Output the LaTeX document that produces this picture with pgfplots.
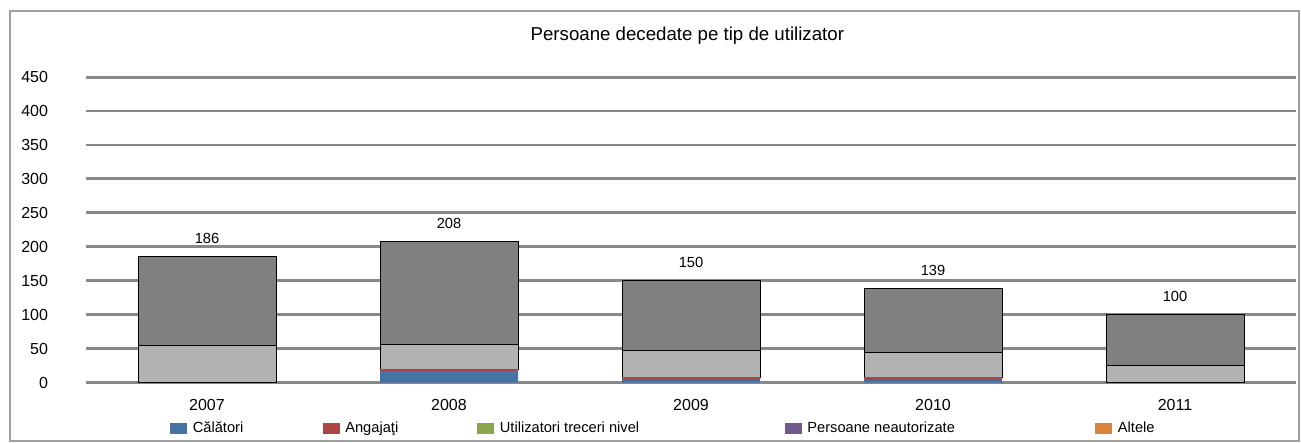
\documentclass[border=0pt]{standalone}
\usepackage{fontspec}
\setmainfont{Liberation Sans}
\usepackage{pgfplots}
\usepackage{pgfplotstable}
\pgfplotsset{compat=1.18}

\definecolor{calatori}{HTML}{4572A7}
\definecolor{angajati}{HTML}{AA4643}
\definecolor{utiliz}{HTML}{89A54E}
\definecolor{neaut}{HTML}{71588F}
\definecolor{altele}{HTML}{DB843D}
\definecolor{lightbar}{HTML}{B2B2B2}
\definecolor{darkbar}{HTML}{808080}
\definecolor{gridgray}{HTML}{888888}

% x: 0..4 = 2007..2011
\pgfplotstableread{
x calatori angajati utilizatori neautorizate total
0 0  0 55 131 186
1 17 3 37 151 208
2 4  4 40 102 150
3 4  4 37 94  139
4 0  0 26 74  100
}\datatable

\pgfplotsset{
  frame/.style={at={(0pt,0pt)},anchor=south west,
    scale only axis,width=907.5pt,height=229.2pt,
    xmin=-0.5,xmax=4.5,ymin=0,ymax=450,
    /pgf/number format/assume math mode=true}
}

\begin{document}
\begin{tikzpicture}
\path[use as bounding box] (-64.5pt,-45.2pt) rectangle (911.25pt,287pt);
\draw[gridgray!80,line width=1.3pt] (-57pt,278.8pt) rectangle (909.75pt,-43.7pt);
\node[anchor=base,font=\fontsize{14}{16}\selectfont] at (451pt,256.5pt)
  {Persoane decedate pe tip de utilizator};
\begin{axis}[
  frame,
  ybar stacked,bar width=103.5pt,
  xtick={0,1,2,3,4},xticklabels={2007,2008,2009,2010,2011},
  ytick={0,50,...,450},
  ymajorgrids,grid style={line width=2.2pt,gridgray},
  axis line style={draw=none},major tick length=0pt,
  tick label style={font=\fontsize{12}{14}\selectfont},
  xticklabel style={yshift=-9pt},
  yticklabel style={anchor=east,xshift=-25pt},
  legend columns=5,
  legend style={at={(0.0694,-0.1483)},anchor=west,draw=none,fill=none,
    inner sep=0pt,nodes={inner sep=0pt},font=\fontsize{11}{13}\selectfont,
    /tikz/every odd column/.style={column sep=4.5pt},
    /tikz/every even column/.style={column sep=0pt}},
  legend cell align=left,
]
\addlegendimage{legend image code/.code={\fill[calatori] (0pt,-3.75pt) rectangle (12pt,3.75pt);}}
\addlegendentry{\makebox[97.5pt][l]{Călători}}
\addlegendimage{legend image code/.code={\fill[angajati] (0pt,-3.75pt) rectangle (12pt,3.75pt);}}
\addlegendentry{\makebox[99pt][l]{Angajaţi}}
\addlegendimage{legend image code/.code={\fill[utiliz] (0pt,-3.75pt) rectangle (12pt,3.75pt);}}
\addlegendentry{\makebox[213.75pt][l]{Utilizatori treceri nivel}}
\addlegendimage{legend image code/.code={\fill[neaut] (0pt,-3.75pt) rectangle (12pt,3.75pt);}}
\addlegendentry{\makebox[216pt][l]{Persoane neautorizate}}
\addlegendimage{legend image code/.code={\fill[altele] (0pt,-3.75pt) rectangle (12pt,3.75pt);}}
\addlegendentry{Altele}

\addplot[fill=calatori,draw=none,forget plot] table[x=x,y=calatori] {\datatable};
\addplot[fill=angajati,draw=none,forget plot] table[x=x,y=angajati] {\datatable};
\addplot[fill=lightbar,draw=black,line width=0.6pt,forget plot] table[x=x,y=utilizatori] {\datatable};
\addplot[fill=darkbar,draw=black,line width=0.6pt,forget plot] table[x=x,y=neautorizate] {\datatable};
\end{axis}
% totals above the bars
\begin{axis}[frame,hide axis,clip=false]
\addplot[only marks,mark=none,
  nodes near coords,point meta=explicit,
  nodes near coords style={font=\fontsize{11}{13}\selectfont,anchor=south,yshift=6pt,text=black}]
  table[x=x,y=total,meta=total] {\datatable};
\end{axis}
\end{tikzpicture}
\end{document}
